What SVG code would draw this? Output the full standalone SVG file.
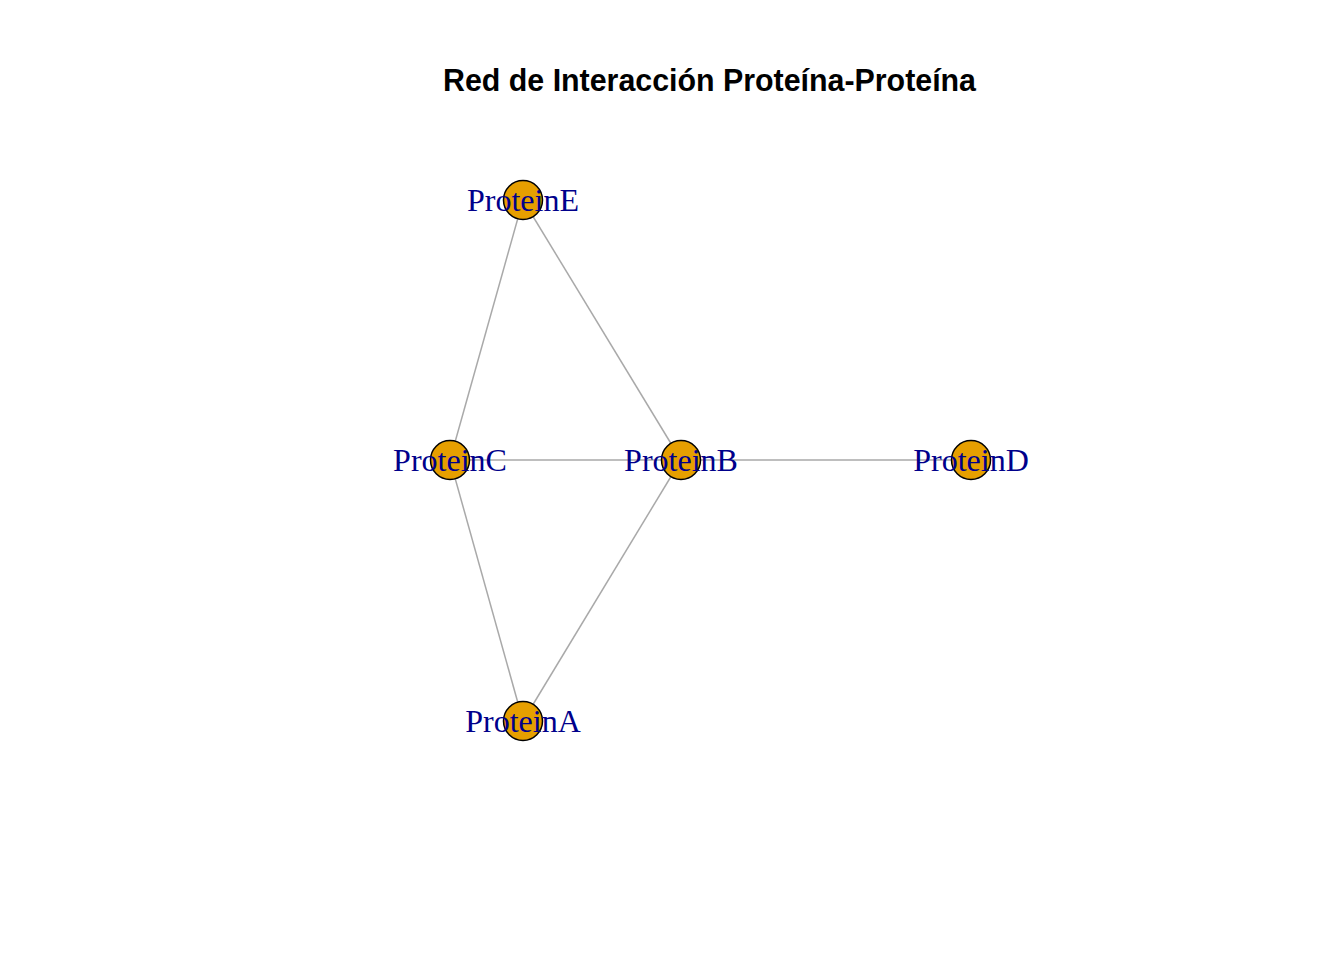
<svg xmlns="http://www.w3.org/2000/svg" width="1344" height="960" viewBox="0 0 1344 960">
<style>
.edge{stroke:#A9A9A9;stroke-width:1.5;fill:none}
.node{fill:#E69F00;stroke:#000;stroke-width:1.5}
.lbl{font-family:"Liberation Serif","Times New Roman",serif;font-size:32px;fill:#00008B;text-anchor:middle}
.title{font-family:"Liberation Sans",Arial,sans-serif;font-weight:bold;font-size:31px;fill:#000;text-anchor:middle}
</style>
<rect width="1344" height="960" fill="#fff"/>
<text class="title" x="709.5" y="91" textLength="533" lengthAdjust="spacingAndGlyphs">Red de Interacción Proteína-Proteína</text>
<g id="edges">
<line class="edge" x1="523" y1="200" x2="450" y2="460"/>
<line class="edge" x1="523" y1="200" x2="681" y2="460"/>
<line class="edge" x1="450" y1="460" x2="681" y2="460"/>
<line class="edge" x1="681" y1="460" x2="971" y2="460"/>
<line class="edge" x1="450" y1="460" x2="523" y2="721"/>
<line class="edge" x1="681" y1="460" x2="523" y2="721"/>
</g>
<g id="ProteinE"><circle class="node" cx="523" cy="200" r="19.5"/><text class="lbl" x="523" y="211">ProteinE</text></g>
<g id="ProteinC"><circle class="node" cx="450" cy="460" r="19.5"/><text class="lbl" x="450" y="471">ProteinC</text></g>
<g id="ProteinB"><circle class="node" cx="681" cy="460" r="19.5"/><text class="lbl" x="681" y="471">ProteinB</text></g>
<g id="ProteinD"><circle class="node" cx="971" cy="460" r="19.5"/><text class="lbl" x="971" y="471">ProteinD</text></g>
<g id="ProteinA"><circle class="node" cx="523" cy="721" r="19.5"/><text class="lbl" x="523" y="732">ProteinA</text></g>
</svg>
